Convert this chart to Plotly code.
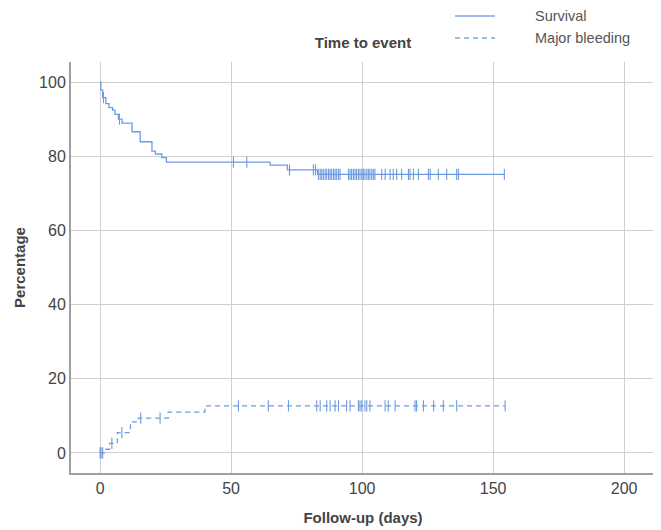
import numpy as np
import plotly.graph_objects as go

# Survival (Kaplan-Meier style step curve, %)
surv_t = [0, 0.3, 1.0, 2.2, 3.4, 4.8, 5.7, 7.0, 8.4, 12.2, 15.3, 19.8, 21.1, 23.6, 25.3, 64.9, 71.5, 83.0]
surv_v = [100, 97.8, 95.8, 94.2, 93.1, 92.4, 91.3, 90.0, 88.9, 86.6, 83.9, 81.4, 80.6, 79.6, 78.4, 77.6, 76.3, 75.1]
surv_cens = [1.3, 7.4, 50.9, 56.0, 72.3, 81.4, 82.2, 83.3, 84.0, 84.6, 85.2, 85.9, 86.5, 87.2, 87.8,
             88.4, 89.1, 89.7, 90.3, 91.0, 91.6, 94.8, 95.4, 96.0, 96.7, 97.3, 97.9, 98.6, 99.2,
             99.9, 100.5, 101.1, 101.8, 102.4, 103.0, 103.7, 104.3, 104.9, 107.5, 108.8, 110.7,
             111.9, 113.2, 115.1, 117.7, 118.3, 119.6, 121.5, 125.3, 126.0, 129.1, 132.3, 136.1,
             136.8, 154.3]

# Major bleeding (cumulative incidence step curve, %)
bleed_t = [0, 2.0, 3.6, 6.6, 11.6, 14.6, 26.0, 40.0]
bleed_v = [0, 1.0, 2.6, 5.5, 8.4, 9.4, 11.0, 12.7]
bleed_cens = [0, 0.4, 1.0, 4.5, 8.3, 15.5, 22.9, 52.8, 64.2, 71.9, 82.7, 84.0, 86.5, 87.8, 89.7,
              91.0, 94.1, 95.4, 98.6, 99.2, 99.9, 101.1, 101.8, 103.0, 108.8, 110.0, 112.6,
              120.2, 120.8, 123.4, 127.3, 131.0, 136.1, 154.6]

series_names = ["Survival", "Major bleeding"]
x_ticks = [0, 50, 100, 150, 200]
y_ticks = [0, 20, 40, 60, 80, 100]


def step_values(ts, vs, pts):
    idx = np.searchsorted(np.asarray(ts), np.asarray(pts), side="right") - 1
    return [vs[i] for i in idx]


COL = "#6c9be2"
LEG = "#9fbbea"

fig = go.Figure()

fig.add_trace(go.Scatter(
    x=surv_t + [max(surv_cens)], y=surv_v + [surv_v[-1]],
    mode="lines", line=dict(color=COL, width=1.3, shape="hv"),
    name=series_names[0], showlegend=False))
fig.add_trace(go.Scatter(
    x=surv_cens, y=step_values(surv_t, surv_v, surv_cens), mode="markers",
    marker=dict(symbol="line-ns-open", size=8, color=COL, line=dict(color=COL, width=1.1)),
    showlegend=False, hoverinfo="skip"))

fig.add_trace(go.Scatter(
    x=bleed_t + [max(bleed_cens)], y=bleed_v + [bleed_v[-1]],
    mode="lines", line=dict(color=COL, width=1.3, shape="hv", dash="5px,4px"),
    name=series_names[1], showlegend=False))
fig.add_trace(go.Scatter(
    x=bleed_cens, y=step_values(bleed_t, bleed_v, bleed_cens), mode="markers",
    marker=dict(symbol="line-ns-open", size=8, color=COL, line=dict(color=COL, width=1.1)),
    showlegend=False, hoverinfo="skip"))

W, H = 653, 522
ML, MR, MT, MB = 63, 6, 54, 57
PW, PH = W - ML - MR, H - MT - MB


def px(fx):
    return (fx - ML) / PW


def py(fy):
    return 1 + (MT - fy) / PH


# manual legend (line sample with a wide gap before the label, as in the reference)
for i, (name, dash) in enumerate(zip(series_names, ["solid", "5px,4px"])):
    fy = 8 + 22 * i
    fig.add_shape(type="line", xref="paper", yref="paper",
                  x0=px(447), x1=px(487), y0=py(fy), y1=py(fy),
                  line=dict(color=LEG, width=2, dash=dash))
    fig.add_annotation(xref="paper", yref="paper", x=px(525), y=py(fy),
                       xanchor="left", yanchor="middle", showarrow=False,
                       text=name, font=dict(size=14.5, color="#555"))

fig.update_layout(
    width=W, height=H,
    margin=dict(l=ML, r=MR, t=MT, b=MB, autoexpand=False),
    paper_bgcolor="white", plot_bgcolor="white",
    font=dict(family="Liberation Sans, Arial, sans-serif", color="#444"),
    title=dict(text="<b>Time to event</b>", x=0.5, xref="paper", xanchor="center",
               y=1 - 35 / H, yanchor="middle", font=dict(size=15, color="#444")),
    showlegend=False,
    xaxis=dict(range=[-11.1, 211.8], tickvals=x_ticks, ticktext=[str(v) for v in x_ticks],
               showgrid=True, gridcolor="#cfcfcf", gridwidth=1, zeroline=False,
               showline=True, linecolor="#a0a0a0", linewidth=2, automargin=False,
               ticks="", tickfont=dict(size=16, color="#444"),
               title=dict(text="<b>Follow-up (days)</b>", font=dict(size=15, color="#444"), standoff=16)),
    yaxis=dict(range=[-5.4, 105.4], tickvals=y_ticks, ticktext=[str(v) for v in y_ticks],
               showgrid=True, gridcolor="#cfcfcf", gridwidth=1, zeroline=False,
               showline=True, linecolor="#a0a0a0", linewidth=2, automargin=False,
               ticks="", tickfont=dict(size=16, color="#444"),
               title=dict(text="<b>Percentage</b>", font=dict(size=15, color="#444"), standoff=10)),
)

fig.write_html("out.html")
